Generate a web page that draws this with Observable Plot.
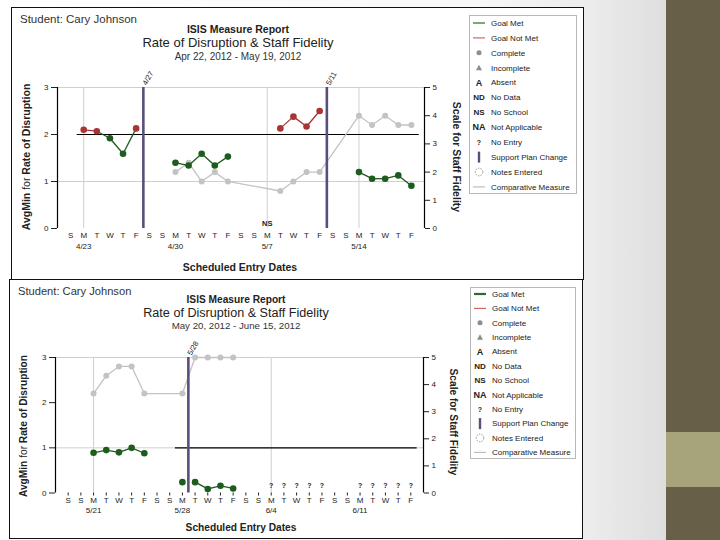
<!DOCTYPE html>
<html><head><meta charset="utf-8">
<script src="https://cdn.jsdelivr.net/npm/d3@7"></script>
<script src="https://cdn.jsdelivr.net/npm/@observablehq/plot@0.6"></script>
<style>
html,body{margin:0;padding:0;}
body{width:720px;height:540px;overflow:hidden;position:relative;font-family:"Liberation Sans",Arial,sans-serif;color:#222;
 background:linear-gradient(90deg,#ffffff 0px,#f8f8f8 470px,#ececec 590px,#dedede 666px);}
.stripe{position:absolute;left:666px;width:54px;}
.panel{position:absolute;background:#fff;outline:1px solid #111;outline-offset:-1px;}
.t{position:absolute;white-space:nowrap;transform:translate(-50%,-50%);line-height:1;}
.l{position:absolute;white-space:nowrap;transform:translate(0,-50%);line-height:1;}
.legend{position:absolute;background:#fff;outline:1px solid #b8b8b8;outline-offset:-1px;}
</style></head><body>
<div class="stripe" style="top:0;height:432px;background:#675f48"></div>
<div class="stripe" style="top:432px;height:55px;background:#a7a47c"></div>
<div class="stripe" style="top:487px;height:53px;background:#675f48"></div>
<div id="p1" class="panel" style="left:11px;top:7px;width:573px;height:273px"></div>
<div id="p2" class="panel" style="left:9px;top:279px;width:574px;height:260px"></div>
<script>
// ---------- shared ----------
const studentText = "Student: Cary Johnson";
const reportTitle = "ISIS Measure Report";
const chartTitle = "Rate of Disruption & Staff Fidelity";
const xTitle = "Scheduled Entry Dates";
const leftTicks = [0, 1, 2, 3];
const rightTicks = [0, 1, 2, 3, 4, 5];
const legendLabels = ["Goal Met","Goal Not Met","Complete","Incomplete","Absent","No Data","No School","Not Applicable","No Entry","Support Plan Change","Notes Entered","Comparative Measure"];

// ---------- top chart: Apr 22, 2012 - May 19, 2012 ----------
const topRange = "Apr 22, 2012 - May 19, 2012";
const topDays = ["S","M","T","W","T","F","S","S","M","T","W","T","F","S","S","M","T","W","T","F","S","S","M","T","W","T","F"];
const topDateIdx = [1, 8, 15, 22];
const topDateText = ["4/23", "4/30", "5/7", "5/14"];
const topGridIdx = [1, 15, 22];
const topDisIdx   = [1, 2, 3, 4, 5,   8, 9, 10, 11, 12,   16, 17, 18, 19,   22, 23, 24, 25, 26];
const topDisVal   = [2.10, 2.07, 1.92, 1.59, 2.13,   1.40, 1.34, 1.59, 1.34, 1.53,   2.13, 2.38, 2.17, 2.50,   1.20, 1.06, 1.06, 1.13, 0.91];
const topDisGroup = [1, 1, 1, 1, 1,   2, 2, 2, 2, 2,   3, 3, 3, 3,   4, 4, 4, 4, 4];
const topCmpIdx = [8, 9, 10, 11, 12, 16, 17, 18, 19, 22, 23, 24, 25, 26];
const topCmpVal = [2.0, 2.33, 1.67, 2.0, 1.67, 1.33, 1.67, 2.0, 2.0, 4.0, 3.67, 4.0, 3.67, 3.67];
const topGoal = 2, topGoalFrom = 0.5, topGoalTo = 26.6;
const topSpcIdx = [5.55, 19.55];
const topSpcText = ["4/27", "5/11"];
const topNsIdx = [15];
const topNoEntryIdx = [];

// ---------- bottom chart: May 20, 2012 - June 15, 2012 ----------
const botRange = "May 20, 2012 - June 15, 2012";
const botDays = ["S","S","M","T","W","T","F","S","S","M","T","W","T","F","S","S","M","T","W","T","F","S","S","M","T","W","T","F"];
const botDateIdx = [2, 9, 16, 23];
const botDateText = ["5/21", "5/28", "6/4", "6/11"];
const botGridIdx = [2, 16];
const botDisIdx   = [2, 3, 4, 5, 6,   9,   10, 11, 12, 13];
const botDisVal   = [0.89, 0.95, 0.90, 1.0, 0.88,   0.24,   0.24, 0.09, 0.16, 0.10];
const botDisGroup = [1, 1, 1, 1, 1,   2,   3, 3, 3, 3];
const botCmpIdx = [2, 3, 4, 5, 6, 9, 10, 11, 12, 13];
const botCmpVal = [3.67, 4.33, 4.67, 4.67, 3.67, 3.67, 5, 5, 5, 5];
const botGoal = 1, botGoalFrom = 8.45, botGoalTo = 27.5;
const botSpcIdx = [9.47];
const botSpcText = ["5/28"];
const botNsIdx = [];
const botNoEntryIdx = [16, 17, 18, 19, 20, 23, 24, 25, 26, 27];

const GREEN = "#1d5c1d", RED = "#a83434", GRAY = "#c3c3c3", PURPLE = "#5a4f7a";

function drawChart(panel, c) {
  const xs = d3.range(c.days.length);
  const dis = c.disIdx.map((x, k) => ({x, v: c.disVal[k], g: c.disGroup[k], met: c.disVal[k] <= c.goal}));
  const segs = [];
  for (let k = 1; k < dis.length; k++) {
    const a = dis[k - 1], b = dis[k];
    if (a.g === b.g) segs.push({x1: a.x, y1: a.v, x2: b.x, y2: b.v, met: a.met || b.met});
  }
  const toLeft = v => v * 3 / 5;
  const cmp = c.cmpIdx.map((x, k) => ({x, v: toLeft(c.cmpVal[k])}));
  const svg = Plot.plot({
    width: c.W, height: c.H,
    marginLeft: c.L, marginRight: c.W - c.R, marginTop: c.T, marginBottom: c.H - c.B,
    x: {domain: c.xDomain, axis: null},
    y: {domain: [0, 3], axis: null},
    style: {position: "absolute", left: "0px", top: "0px", background: "transparent", overflow: "visible",
            fontFamily: "Liberation Sans, Arial, sans-serif", fontSize: "8px", color: "#222"},
    marks: [
      Plot.ruleY([1, 3], {stroke: "#cfcfcf", strokeWidth: 1}),
      Plot.ruleX(c.gridIdx, {y1: 0, y2: 3, stroke: "#cfcfcf", strokeWidth: 1}),
      Plot.ruleY([c.goal], {x1: c.goalFrom, x2: c.goalTo, stroke: "#000", strokeWidth: 1.2}),
      Plot.line(cmp, {x: "x", y: "v", stroke: GRAY, strokeWidth: 1.3}),
      Plot.dot(cmp, {x: "x", y: "v", r: 3, fill: GRAY}),
      Plot.link(segs, {filter: d => d.met, x1: "x1", y1: "y1", x2: "x2", y2: "y2", stroke: GREEN, strokeWidth: 1.3}),
      Plot.link(segs, {filter: d => !d.met, x1: "x1", y1: "y1", x2: "x2", y2: "y2", stroke: RED, strokeWidth: 1.3}),
      Plot.dot(dis, {filter: d => d.met, x: "x", y: "v", r: 3.3, fill: GREEN}),
      Plot.dot(dis, {filter: d => !d.met, x: "x", y: "v", r: 3.3, fill: RED}),
      Plot.ruleX(c.spcIdx, {y1: 0, y2: 3, stroke: PURPLE, strokeWidth: 2.6}),
      Plot.text(c.spcIdx, {x: d => d, y: 3, text: (d, i) => c.spcText[i], rotate: -60, textAnchor: "start", dx: 1, dy: -3, fontSize: 7.5}),
      Plot.text(c.nsIdx, {x: d => d, y: 0, text: () => "NS", dy: -5, fontSize: 7.5, fontWeight: "bold"}),
      Plot.text(c.noEntryIdx, {x: d => d, y: 0, text: () => "?", dy: -7, fontSize: 7, fontWeight: "bold"}),
      Plot.ruleX([c.xDomain[0]], {stroke: "#000", strokeWidth: 1.2}),
      Plot.ruleX([c.xDomain[1]], {stroke: "#000", strokeWidth: 1.2}),
      Plot.axisY(leftTicks, {anchor: "left", tickSize: 6, tickPadding: 3, label: null, fontSize: 8}),
      Plot.axisY(rightTicks.map(toLeft), {anchor: "right", tickFormat: d => Math.round(d * 5 / 3), tickSize: 5, tickPadding: 3, label: null, fontSize: 8}),
      Plot.axisX(xs, {tickFormat: i => c.days[i], tickSize: c.tickSize, tickPadding: c.tickPadding, label: null, fontSize: 8}),
      Plot.text(c.dateIdx, {x: d => d, y: 0, text: (d, i) => c.dateText[i], dy: c.dateDy, fontSize: 8})
    ]
  });
  panel.appendChild(svg);

  const add = (cls, html, x, y, style) => {
    const el = document.createElement("div");
    el.className = cls; el.innerHTML = html;
    el.style.left = x + "px"; el.style.top = y + "px";
    Object.assign(el.style, style || {});
    panel.appendChild(el);
    return el;
  };
  add("l", studentText, 9, 13, {fontSize: c.fs * 11.5 + "px", color: "#333"});
  add("t", reportTitle, c.cx, c.ty[0], {fontSize: c.fs * 10.5 + "px", fontWeight: "bold"});
  add("t", chartTitle.replace("&", "&amp;"), c.cx, c.ty[1], {fontSize: c.fs * 13 + "px"});
  add("t", c.range, c.cx, c.ty[2], {fontSize: c.fs * 10 + "px", color: "#333"});
  add("t", xTitle, c.xtx, c.xty, {fontSize: c.fs * 10.5 + "px", fontWeight: "bold"});
  add("t", "<b>AvgMin</b> for <b>Rate of Disruption</b>", 15, c.ltY, {fontSize: c.fs * 10.5 + "px", transform: "translate(-50%,-50%) rotate(-90deg)"});
  add("t", "<b>Scale for Staff Fidelity</b>", c.rtX, c.rtY, {fontSize: c.fs * 10.5 + "px", transform: "translate(-50%,-50%) rotate(90deg)"});

  // legend
  const lg = c.legend;
  const sym = [
    y => `<line x1="4" x2="16" y1="${y}" y2="${y}" stroke="#2a6a2a" stroke-width="${c.goalW}"/>`,
    y => `<line x1="4" x2="16" y1="${y}" y2="${y}" stroke="#d46464" stroke-width="1.2"/>`,
    y => `<circle cx="10" cy="${y}" r="2.5" fill="#8d8d8d"/>`,
    y => `<path d="M10,${y-3}L13,${y+2.5}L7,${y+2.5}Z" fill="#8d8d8d"/>`,
    y => `<text x="10" y="${y}" dy="0.35em" text-anchor="middle" font-weight="bold" font-size="9">A</text>`,
    y => `<text x="10" y="${y}" dy="0.35em" text-anchor="middle" font-weight="bold" font-size="8">ND</text>`,
    y => `<text x="10" y="${y}" dy="0.35em" text-anchor="middle" font-weight="bold" font-size="8">NS</text>`,
    y => `<text x="10" y="${y}" dy="0.35em" text-anchor="middle" font-weight="bold" font-size="9">NA</text>`,
    y => `<text x="10" y="${y}" dy="0.35em" text-anchor="middle" font-weight="bold" font-size="7">?</text>`,
    y => `<rect x="8.8" y="${y-5.5}" width="2.4" height="11" fill="${PURPLE}"/>`,
    y => `<circle cx="10" cy="${y}" r="3.8" fill="none" stroke="#999" stroke-dasharray="1.5,1.2"/>`,
    y => `<line x1="4" x2="16" y1="${y}" y2="${y}" stroke="#bdbdbd" stroke-width="1.2"/>`
  ];
  let s = `<svg width="${lg.w}" height="${lg.h}" style="font-family:Liberation Sans,Arial,sans-serif;fill:#222">`;
  legendLabels.forEach((lab, i) => {
    const y = lg.y0 + i * lg.dy;
    s += sym[i](y);
    s += `<text x="22" y="${y}" dy="0.35em" font-size="8">${lab}</text>`;
  });
  s += `</svg>`;
  const box = document.createElement("div");
  box.className = "legend";
  Object.assign(box.style, {left: lg.x + "px", top: lg.y + "px", width: lg.w + "px", height: lg.h + "px"});
  box.innerHTML = s;
  panel.appendChild(box);
}

drawChart(document.getElementById("p1"), {
  W: 573, H: 273, L: 46, R: 413, T: 80, B: 221, xDomain: [-1, 27],
  days: topDays, dateIdx: topDateIdx, dateText: topDateText, gridIdx: topGridIdx,
  disIdx: topDisIdx, disVal: topDisVal, disGroup: topDisGroup, cmpIdx: topCmpIdx, cmpVal: topCmpVal,
  goal: topGoal, goalFrom: topGoalFrom, goalTo: topGoalTo, spcIdx: topSpcIdx, spcText: topSpcText,
  nsIdx: topNsIdx, noEntryIdx: topNoEntryIdx, tickSize: 0, tickPadding: 4, dateDy: 18,
  range: topRange, fs: 1, cx: 227, ty: [22, 35, 50], xtx: 229, xty: 260, ltY: 150, rtX: 446, rtY: 150,
  goalW: 1.2, legend: {x: 458, y: 8, w: 108, h: 179, y0: 8, dy: 14.9}
});
drawChart(document.getElementById("p2"), {
  W: 574, H: 260, L: 46, R: 414, T: 78, B: 213.5, xDomain: [-1, 28],
  days: botDays, dateIdx: botDateIdx, dateText: botDateText, gridIdx: botGridIdx,
  disIdx: botDisIdx, disVal: botDisVal, disGroup: botDisGroup, cmpIdx: botCmpIdx, cmpVal: botCmpVal,
  goal: botGoal, goalFrom: botGoalFrom, goalTo: botGoalTo, spcIdx: botSpcIdx, spcText: botSpcText,
  nsIdx: botNsIdx, noEntryIdx: botNoEntryIdx, tickSize: 3, tickPadding: 1.5, dateDy: 17.5,
  range: botRange, fs: 0.97, cx: 227, ty: [21, 34, 47], xtx: 232, xty: 249, ltY: 147, rtX: 444, rtY: 143,
  goalW: 2.2, legend: {x: 461, y: 8, w: 106, h: 172, y0: 7, dy: 14.4}
});
</script>
</body></html>
